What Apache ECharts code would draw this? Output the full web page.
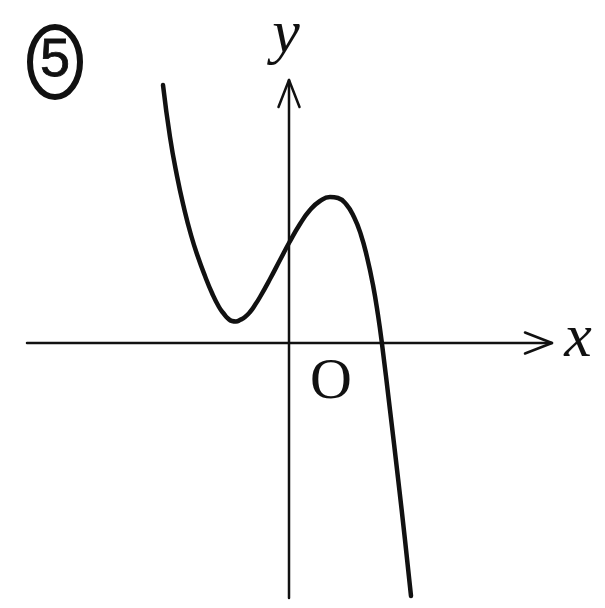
<!DOCTYPE html>
<html>
<head>
<meta charset="utf-8">
<script src="https://cdn.jsdelivr.net/npm/echarts@6/dist/echarts.min.js"></script>
<style>
  html, body { margin: 0; padding: 0; background: #fff; }
  #chart { width: 605px; height: 608px; }
</style>
</head>
<body>
<div id="chart"></div>
<script>
// curve (1 unit = 50px, origin at the axes crossing)
const curveX = [-2.52, -2.38, -2.24, -2.10, -1.96, -1.82, -1.68, -1.54, -1.40, -1.30, -1.22, -1.14, -1.06, -0.98, -0.88, -0.78, -0.68, -0.58, -0.38, -0.18, 0, 0.22, 0.42, 0.62, 0.82, 0.98, 1.14, 1.30, 1.44, 1.56, 1.68, 1.78, 1.86, 2.02, 2.18, 2.32, 2.44]
const curveY = [5.16, 4.12, 3.34, 2.70, 2.16, 1.72, 1.34, 1.00, 0.72, 0.58, 0.49, 0.44, 0.43, 0.46, 0.52, 0.62, 0.76, 0.92, 1.28, 1.66, 2.00, 2.38, 2.66, 2.84, 2.92, 2.90, 2.78, 2.52, 2.16, 1.72, 1.16, 0.56, -0.02, -1.34, -2.70, -3.94, -5.06]

// axis extents
const xAxisRange = [-5.24, 5.26]
const yAxisRange = [-5.1, 5.26]

const ink = '#111'
const arrowLen = 0.54
const arrowHalf = 0.21

const chart = echarts.init(document.getElementById('chart'))

const curve = curveX.map((x, i) => [x, curveY[i]])

const lineSeries = (data, width, smooth) => ({
  type: 'line',
  data: data,
  symbol: 'none',
  smooth: smooth || false,
  lineStyle: { color: ink, width: width, cap: 'round', join: 'round' },
  silent: true,
  animation: false
})

chart.setOption({
  backgroundColor: '#fff',
  grid: { left: 0, right: 0, top: 0, bottom: 0 },
  xAxis: { type: 'value', min: -5.78, max: 6.32, show: false },
  yAxis: { type: 'value', min: -5.3, max: 6.86, show: false },
  series: [
    // x axis + arrow
    lineSeries([[xAxisRange[0], 0], [xAxisRange[1], 0]], 2.5),
    lineSeries([
      [xAxisRange[1] - arrowLen, arrowHalf],
      [xAxisRange[1], 0],
      [xAxisRange[1] - arrowLen, -arrowHalf]
    ], 2.5),
    // y axis + arrow
    lineSeries([[0, yAxisRange[0]], [0, yAxisRange[1]]], 2.5),
    lineSeries([
      [-arrowHalf, yAxisRange[1] - arrowLen],
      [0, yAxisRange[1]],
      [arrowHalf, yAxisRange[1] - arrowLen]
    ], 2.5),
    // the cubic
    lineSeries(curve, 4.5, 0.5)
  ],
  graphic: [
    {
      type: 'ellipse',
      shape: { cx: 55, cy: 62, rx: 25, ry: 35 },
      style: { fill: 'none', stroke: ink, lineWidth: 6 }
    },
    {
      type: 'text',
      x: 55, y: 61,
      style: {
        text: '5', fill: ink, font: '54px "Liberation Sans", "DejaVu Sans", sans-serif',
        stroke: ink, lineWidth: 0.8,
        align: 'center', verticalAlign: 'middle'
      }
    },
    {
      type: 'text',
      x: 286, y: 36,
      style: {
        text: 'y', fill: ink, font: 'italic 62px "Liberation Serif", "DejaVu Serif", serif',
        align: 'center', verticalAlign: 'middle'
      }
    },
    {
      type: 'text',
      x: 578, y: 340,
      style: {
        text: 'x', fill: ink, font: 'italic 62px "Liberation Serif", "DejaVu Serif", serif',
        align: 'center', verticalAlign: 'middle'
      }
    },
    {
      type: 'text',
      x: 331, y: 383,
      style: {
        text: 'O', fill: ink, font: '58px "Liberation Serif", "DejaVu Serif", serif',
        align: 'center', verticalAlign: 'middle'
      }
    }
  ]
})
</script>
</body>
</html>
